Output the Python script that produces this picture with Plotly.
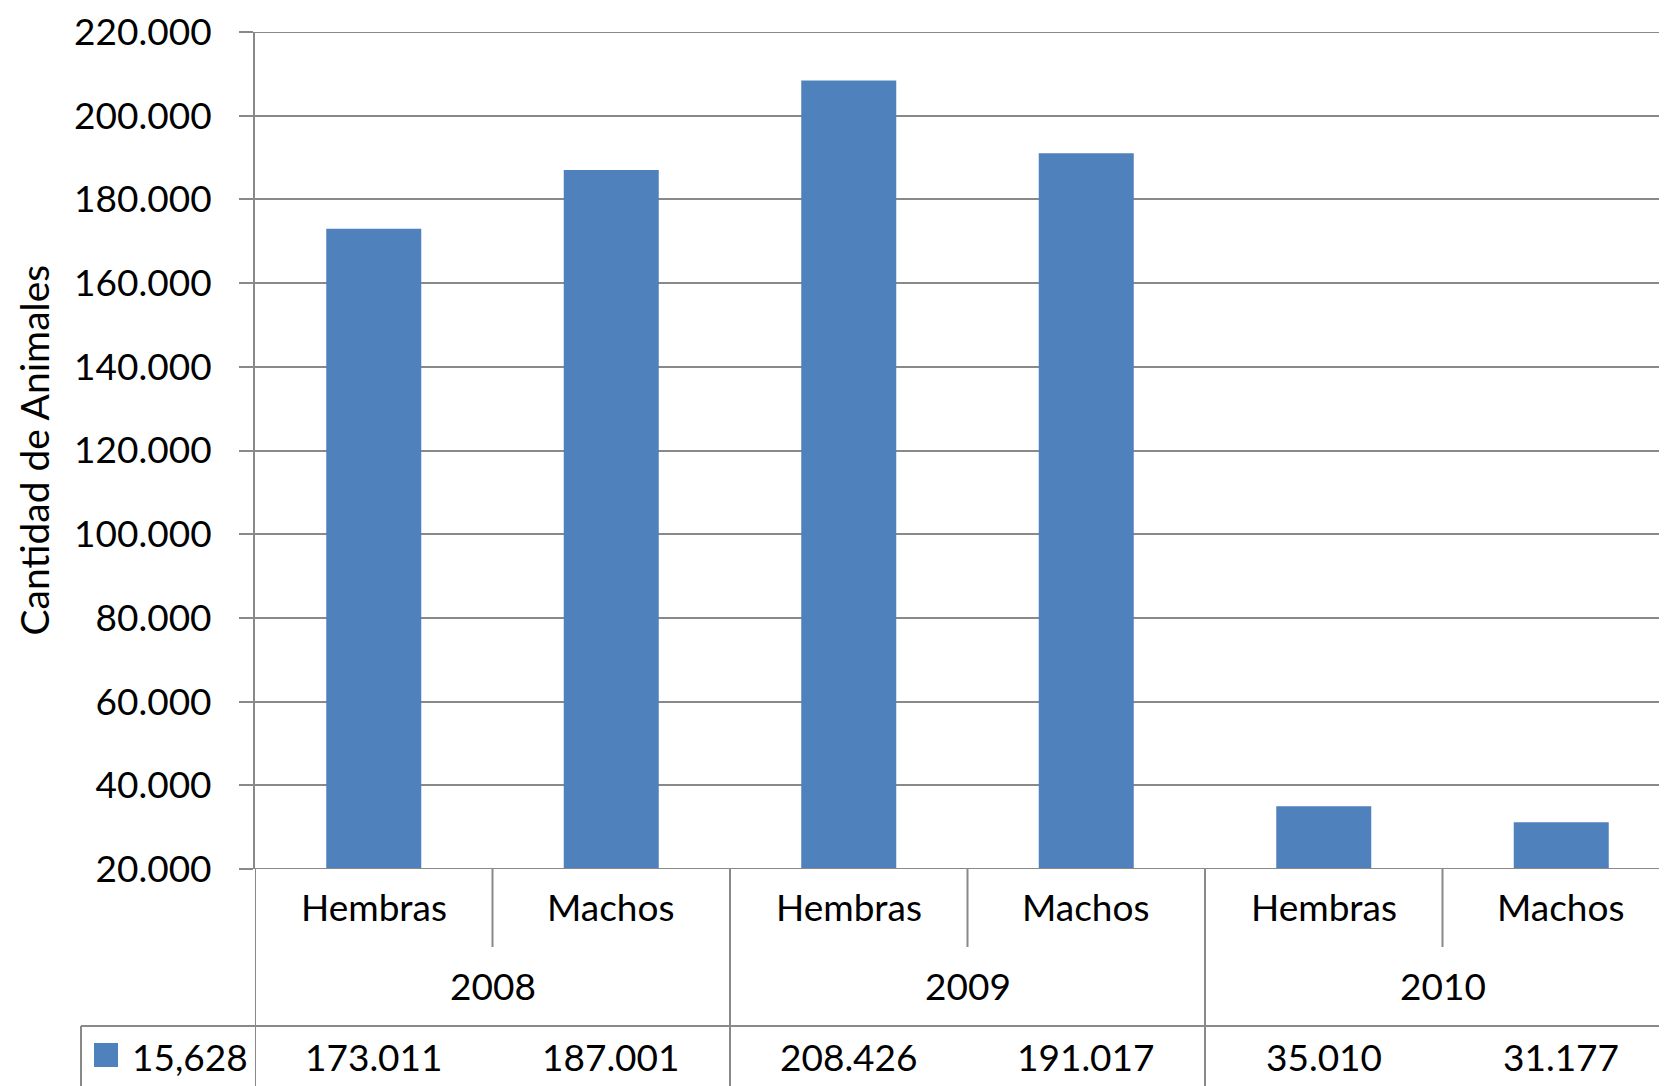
import plotly.graph_objects as go

# Data
years = ["2008", "2009", "2010"]
categories = ["Hembras", "Machos", "Hembras", "Machos", "Hembras", "Machos"]
values = [173011, 187001, 208426, 191017, 35010, 31177]
series_name = "15,628"
y_tick_vals = [20000, 40000, 60000, 80000, 100000, 120000, 140000, 160000, 180000, 200000, 220000]

# page body has an 8px margin; figure starts at (8, 8) in the window
OFF = 8
W, H = 1667 - OFF, 1086 - OFF
L, T = 255 - OFF, 32 - OFF
PLOT_BOTTOM = 869 - OFF
B = H - PLOT_BOTTOM
R = 0
plot_h = H - T - B
plot_w = W - L - R
CAT_W = 237.5  # category width in px; the chart is cropped on the right in the reference


def py(p):
    # p given in reference window pixels
    return (PLOT_BOTTOM - (p - OFF)) / plot_h


def px(p):
    return ((p - OFF) - L) / plot_w


FONT = "Lato"
FS = 37
BAR = "#4F81BD"
LINE = "#898989"

xs = list(range(len(values)))
fig = go.Figure()
fig.add_trace(go.Bar(x=xs, y=values, width=0.4, marker=dict(color=BAR, line=dict(width=0)),
                     name=series_name, showlegend=False))

shapes = []
annotations = []
# top and bottom horizontal lines of plot area
for yv in (y_tick_vals[0], y_tick_vals[-1]):
    shapes.append(dict(type="line", xref="paper", yref="y", x0=0, x1=1, y0=yv, y1=yv,
                       line=dict(color=LINE, width=2), layer="above"))
# category separators
for i in range(len(values)):
    xb = i - 0.5
    y1 = -B / plot_h if i % 2 == 0 else py(947)
    shapes.append(dict(type="line", xref="x", yref="paper", x0=xb, x1=xb, y0=0, y1=y1,
                       line=dict(color=LINE, width=2)))
# data table lines
shapes.append(dict(type="line", xref="paper", yref="paper", x0=px(81), x1=1, y0=py(1026), y1=py(1026),
                   line=dict(color=LINE, width=2)))
shapes.append(dict(type="line", xref="paper", yref="paper", x0=px(81), x1=px(81), y0=py(1026),
                   y1=-B / plot_h, line=dict(color=LINE, width=2)))
# legend key
shapes.append(dict(type="rect", xref="paper", yref="paper", x0=px(94), x1=px(118), y0=py(1043), y1=py(1067),
                   fillcolor=BAR, line=dict(width=0)))

txt = dict(family=FONT, size=FS, color="black")
for i, c in enumerate(categories):
    annotations.append(dict(x=i, y=py(906), xref="x", yref="paper", text=c, showarrow=False,
                            font=txt, yanchor="middle"))
    annotations.append(dict(x=i, y=py(1056), xref="x", yref="paper",
                            text=f"{values[i]:,}".replace(",", "."),
                            showarrow=False, font=txt, yanchor="middle"))
for j, yr in enumerate(years):
    annotations.append(dict(x=2 * j + 0.5, y=py(985), xref="x", yref="paper", text=yr, showarrow=False,
                            font=txt, yanchor="middle"))
annotations.append(dict(x=px(130), y=py(1056), xref="paper", yref="paper", text=series_name, showarrow=False,
                        xanchor="left", yanchor="middle", font=txt))
annotations.append(dict(x=px(8), y=0.5, xref="paper", yref="paper", text="Cantidad de Animales",
                        textangle=-90, showarrow=False, xanchor="left", yanchor="middle",
                        font=dict(family=FONT, size=39, color="black")))

fig.update_layout(
    width=W, height=H,
    margin=dict(l=L, r=R, t=T, b=B, pad=0, autoexpand=False),
    paper_bgcolor="white", plot_bgcolor="white",
    separators=",.",
    xaxis=dict(range=[-0.5, -0.5 + plot_w / CAT_W], showticklabels=False, showgrid=False, zeroline=False,
               showline=False, ticks="", automargin=False),
    yaxis=dict(range=[20000, 220000], tickvals=y_tick_vals, tickformat=",d", showgrid=True,
               gridcolor=LINE, gridwidth=2, zeroline=False, showline=True, linecolor=LINE, linewidth=2,
               ticks="outside", ticklen=14, tickcolor=LINE, tickwidth=2, ticklabelstandoff=20,
               ticklabeloverflow="allow", tickfont=txt, automargin=False),
    shapes=shapes, annotations=annotations,
)
fig.write_html("out.html")
